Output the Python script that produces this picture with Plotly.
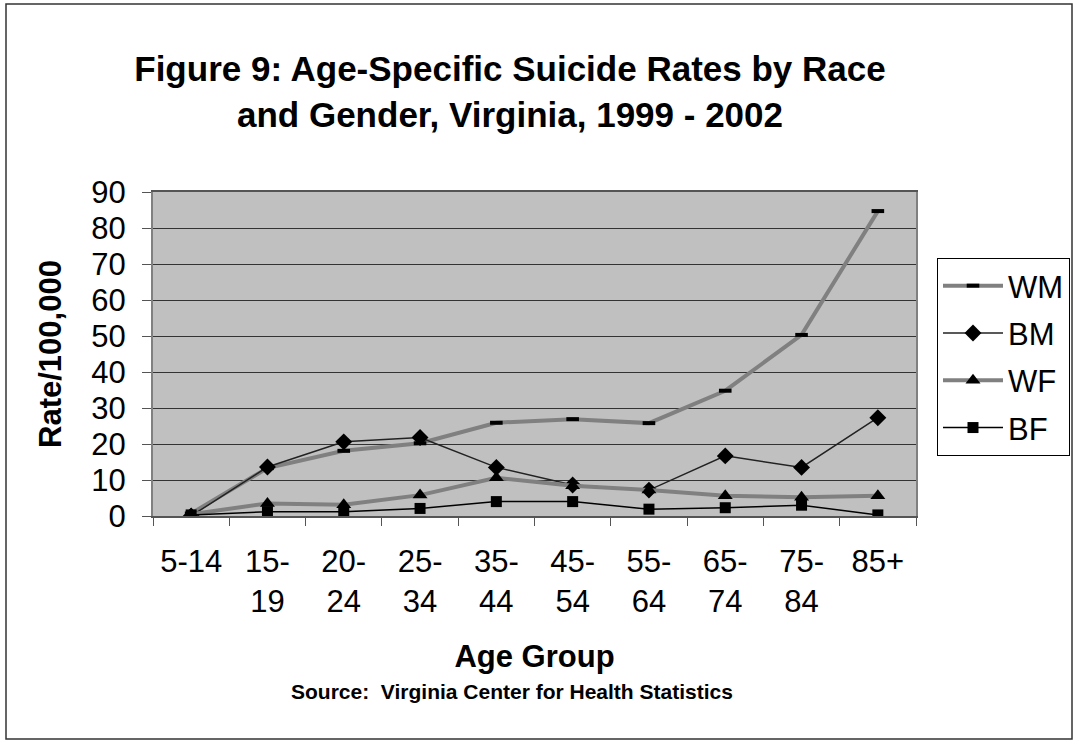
import plotly.graph_objects as go

age_groups = ["5-14", "15-19", "20-24", "25-34", "35-44", "45-54", "55-64", "65-74", "75-84", "85+"]
tick_labels = ["5-14", "15-<br>19", "20-<br>24", "25-<br>34", "35-<br>44", "45-<br>54",
               "55-<br>64", "65-<br>74", "75-<br>84", "85+"]

wm = [0.7, 13.3, 18.1, 20.2, 25.9, 26.9, 25.8, 34.8, 50.3, 84.7]
bm = [0.0, 13.6, 20.6, 21.8, 13.5, 8.6, 7.2, 16.7, 13.5, 27.3]
wf = [0.5, 3.5, 3.1, 5.8, 10.6, 8.4, 7.2, 5.6, 5.2, 5.6]
bf = [0.3, 1.2, 1.2, 2.1, 4.0, 4.0, 1.9, 2.3, 3.0, 0.3]

FONT = "Liberation Sans, Arial, sans-serif"

fig = go.Figure()
fig.add_trace(go.Scatter(
    x=age_groups, y=wm, name="WM", mode="lines+markers", legendgroup="a",
    line=dict(color="#808080", width=4),
    marker=dict(symbol="line-ew", size=9, color="black", line=dict(color="black", width=4)),
))
fig.add_trace(go.Scatter(
    x=age_groups, y=bm, name="BM", mode="lines+markers", legendgroup="b",
    line=dict(color="#222222", width=1.5),
    marker=dict(symbol="diamond", size=13, color="black"),
))
fig.add_trace(go.Scatter(
    x=age_groups, y=wf, name="WF", mode="lines+markers", legendgroup="c",
    line=dict(color="#808080", width=4),
    marker=dict(symbol="triangle-up", size=13, color="black"),
))
fig.add_trace(go.Scatter(
    x=age_groups, y=bf, name="BF", mode="lines+markers", legendgroup="d",
    line=dict(color="black", width=1.5),
    marker=dict(symbol="square", size=11, color="black"),
))

fig.update_layout(
    width=1078, height=741,
    margin=dict(l=153, r=162, t=192, b=225, autoexpand=False),
    paper_bgcolor="white",
    plot_bgcolor="#C0C0C0",
    font=dict(family=FONT, color="black"),
    title=dict(
        text="<b>Figure 9: Age-Specific Suicide Rates by Race<br>and Gender, Virginia, 1999 - 2002</b>",
        x=510 / 1078, xanchor="center", y=1 - 81 / 741, yanchor="middle",
        font=dict(size=35, family=FONT, color="black"),
    ),
    xaxis=dict(
        type="category", categoryorder="array", categoryarray=age_groups,
        tickmode="array", tickvals=age_groups, ticktext=tick_labels,
        tickson="boundaries", ticks="outside", ticklen=8, tickcolor="#555555",
        showline=True, linecolor="#555555", linewidth=1.5, mirror=True,
        showgrid=False, range=[-0.5, 9.5],
        ticklabelstandoff=17,
        tickfont=dict(size=31, family=FONT, color="black"),
        title=dict(text="<b>Age Group</b>", font=dict(size=31, family=FONT), standoff=27),
    ),
    yaxis=dict(
        range=[0, 90], dtick=10, tick0=0,
        ticks="outside", ticklen=9, tickcolor="#555555",
        showline=True, linecolor="#808080", linewidth=2, mirror=True,
        showgrid=True, gridcolor="#333333", gridwidth=1,
        zeroline=False, ticklabelstandoff=10,
        tickfont=dict(size=31, family=FONT, color="black"),
        title=dict(text="<b>Rate/100,000</b>", font=dict(size=31, family=FONT), standoff=20),
    ),
    legend=dict(
        x=(937 - 153) / 763, y=(516 - 258) / 324, xanchor="left", yanchor="top",
        bgcolor="white", bordercolor="black", borderwidth=1,
        font=dict(size=31, family=FONT, color="black"),
        itemwidth=60, tracegroupgap=4, traceorder="grouped",
    ),
    showlegend=True,
    annotations=[dict(
        text="<b>Source:  Virginia Center for Health Statistics</b>",
        xref="paper", yref="paper", x=(512 - 153) / 763, y=(516 - 691) / 324,
        xanchor="center", yanchor="middle", showarrow=False,
        font=dict(size=21, family=FONT, color="black"),
    )],
    shapes=[dict(
        type="rect", xref="paper", yref="paper",
        x0=(6 - 153) / 763, x1=(1072 - 153) / 763,
        y0=(516 - 739) / 324, y1=(516 - 4) / 324,
        line=dict(color="#333333", width=1.5), fillcolor="rgba(0,0,0,0)", layer="below",
    )],
)

fig.write_html("out.html")
